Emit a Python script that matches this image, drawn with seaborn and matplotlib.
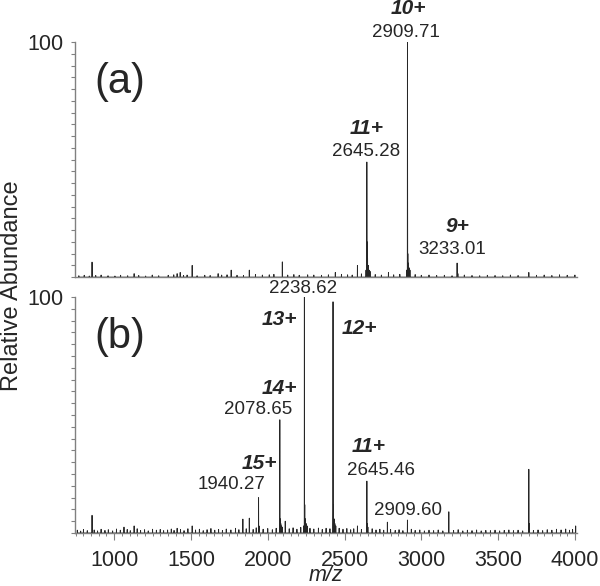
import numpy as np
import pandas as pd
import matplotlib
matplotlib.use("Agg")
import matplotlib.pyplot as plt
import seaborn as sns

# ---- data: (m/z, relative abundance %) ----
peaks_a = [(2909.71, 100), (2645.28, 49), (3233.01, 6),
           (2647, 15), (2650, 8), (2655, 5), (2660, 3), (2640, 3), (2666, 2.5),
           (2912, 10), (2915, 6), (2920, 4), (2926, 3), (2905, 3), (3238, 1.5),
           (856, 6.4), (1508, 5), (2095, 6.5), (2584, 5), (1762, 3), (1880, 3),
           (2440, 2), (2786, 2), (3700, 2), (1130, 1.5), (1410, 1.5), (1430, 2), (1677, 1.5)]

noise_a = [(770, 0.6), (805, 0.8), (838, 0.5), (880, 0.7), (915, 0.9), (960, 0.6),
           (1005, 0.5), (1042, 0.8), (1088, 0.6), (1160, 0.7), (1205, 0.5), (1248, 0.9),
           (1290, 0.6), (1352, 0.8), (1388, 1.0), (1452, 0.7), (1475, 0.9), (1540, 0.6),
           (1590, 0.8), (1625, 0.7), (1700, 0.9), (1735, 1.0), (1800, 0.8), (1842, 0.7),
           (1920, 1.1), (1965, 0.9), (2010, 1.0), (2040, 1.2), (2130, 0.9), (2170, 1.1),
           (2205, 0.8), (2260, 1.0), (2300, 0.9), (2350, 0.8), (2395, 1.0), (2480, 1.2),
           (2520, 1.0), (2550, 0.9), (2610, 1.4), (2700, 1.1), (2740, 0.9), (2820, 1.0),
           (2860, 1.2), (2960, 1.1), (3000, 0.8), (3050, 0.9), (3100, 0.7), (3150, 0.8),
           (3200, 0.6), (3280, 0.9), (3330, 0.7), (3380, 0.6), (3430, 0.8), (3480, 0.7),
           (3530, 0.6), (3580, 0.9), (3630, 0.7), (3750, 0.8), (3800, 0.9), (3850, 0.7),
           (3900, 1.0), (3950, 0.8), (4000, 0.9)]

peaks_b = [(2238.62, 100), (2425.10, 98), (2078.65, 48), (1940.27, 15),
           (2645.46, 22), (2909.60, 5.5), (3700, 27), (3179, 9), (856, 7.5),
           (1838, 5.9), (1880, 6.3), (2114, 5), (2584, 3), (2779, 4.6),
           (1064, 2.5), (1130, 3), (1410, 2), (1508, 3), (4005, 3),
           (2241, 12), (2245, 6), (2250, 4), (2256, 3), (2233, 3),
           (2428, 12), (2432, 6), (2437, 4), (2443, 3),
           (2081, 6), (2085, 4), (2090, 3), (2096, 2.5),
           (1943, 3), (2648, 4), (2652, 2.5), (3703, 4)]

noise_b = [(760, 1.2), (782, 0.8), (800, 1.5), (825, 1.0), (870, 1.3), (892, 0.9),
           (915, 1.6), (940, 1.1), (962, 1.4), (990, 0.9), (1015, 1.7), (1040, 1.2),
           (1085, 1.5), (1105, 1.0), (1150, 1.8), (1172, 1.1), (1198, 1.4), (1222, 0.9),
           (1250, 1.6), (1275, 1.2), (1300, 1.5), (1322, 1.0), (1348, 1.3), (1372, 1.7),
           (1390, 1.1), (1432, 1.5), (1455, 1.0), (1480, 1.8), (1530, 1.3), (1555, 1.6),
           (1580, 1.0), (1605, 1.4), (1630, 1.9), (1655, 1.2), (1680, 1.5), (1705, 1.1),
           (1730, 1.7), (1760, 1.3), (1790, 2.0), (1812, 1.4), (1860, 1.8), (1905, 1.5),
           (1925, 2.2), (1970, 1.6), (2000, 1.9), (2030, 1.4), (2055, 2.0), (2140, 1.8),
           (2165, 2.2), (2190, 1.6), (2215, 2.4), (2275, 2.0), (2300, 1.7), (2330, 2.1),
           (2355, 1.5), (2380, 2.0), (2405, 1.8), (2465, 2.0), (2490, 1.6), (2515, 1.9),
           (2540, 1.4), (2560, 1.8), (2610, 1.5), (2680, 1.8), (2705, 1.3), (2730, 1.6),
           (2755, 1.2), (2800, 1.5), (2830, 1.1), (2855, 1.4), (2880, 1.0), (2935, 1.6),
           (2960, 1.1), (2990, 1.3), (3020, 0.9), (3050, 1.2), (3080, 1.0), (3110, 1.3),
           (3140, 0.9), (3210, 1.1), (3240, 1.4), (3270, 0.9), (3300, 1.2), (3330, 1.0),
           (3360, 1.3), (3390, 0.9), (3420, 1.1), (3450, 1.0), (3480, 1.2), (3510, 0.9),
           (3540, 1.1), (3570, 1.3), (3600, 1.0), (3630, 1.2), (3660, 0.9), (3730, 1.1),
           (3760, 1.3), (3790, 1.0), (3820, 1.4), (3850, 1.2), (3880, 1.6), (3910, 1.3),
           (3940, 1.7), (3965, 1.2), (3985, 1.5)]

# annotations: (text, m/z, y, bold-italic?)
labels_a = [("10+", 2913, 114.3, True), ("2909.71", 2902, 104.3, False),
            ("11+", 2641, 63.4, True), ("2645.28", 2641, 53.6, False),
            ("9+", 3234, 21.4, True), ("3233.01", 3203, 11.9, False)]
labels_b = [("2238.62", 2232, 103.8, False), ("13+", 2075, 90.7, True),
            ("12+", 2597, 86.5, True), ("14+", 2075, 61.2, True),
            ("2078.65", 1938, 52.3, False), ("15+", 1948, 29.5, True),
            ("1940.27", 1767, 20.7, False), ("11+", 2655, 36.7, True),
            ("2645.46", 2738, 26.6, False), ("2909.60", 2916, 9.7, False)]

panel_tags = ["(a)", "(b)"]
x_major = [1000, 1500, 2000, 2500, 3000, 3500, 4000]


def profile(sticks):
    df = pd.DataFrame(sorted(sticks), columns=["mz", "ab"])
    rows = []
    for mz, ab in zip(df["mz"], df["ab"]):
        rows += [(mz - 0.8, 0.0), (mz, ab), (mz + 0.8, 0.0)]
    return pd.DataFrame(rows, columns=["mz", "ab"])


sns.set_style("ticks")
plt.rcParams["font.family"] = ["Liberation Sans", "DejaVu Sans"]

fig = plt.figure(figsize=(6.0, 5.86), dpi=100)
ax_a = fig.add_axes([0.125, 0.527, 0.837, 0.401])
ax_b = fig.add_axes([0.125, 0.0904, 0.837, 0.4026])

spine_col = "#808080"
line_col = "#262626"

for ax, sticks, noise, labels, tag in [(ax_a, peaks_a, noise_a, labels_a, panel_tags[0]),
                                        (ax_b, peaks_b, noise_b, labels_b, panel_tags[1])]:
    prof = profile(sticks + noise)
    sns.lineplot(data=prof, x="mz", y="ab", ax=ax, color=line_col, lw=0.65,
                 estimator=None, sort=False)
    ax.set_xlim(745, 4015)
    ax.set_ylim(0, 100)
    sns.despine(ax=ax)
    for s in ["left", "bottom"]:
        ax.spines[s].set_color(spine_col)
        ax.spines[s].set_linewidth(1.0)
    ax.set_yticks([100])
    ax.set_yticks(np.arange(0, 100, 5), minor=True)
    ax.tick_params(axis="y", which="both", length=3, width=0.8, color=spine_col,
                   labelsize=15.5, pad=5)
    ax.set_xlabel("")
    ax.set_ylabel("")
    for text, mz, y, bold in labels:
        if bold:
            ax.text(mz, y, text, ha="center", va="center", fontsize=15,
                    fontweight="bold", fontstyle="italic", clip_on=False)
        else:
            ax.text(mz, y, text, ha="center", va="center", fontsize=13.5,
                    clip_on=False)
    ax.text(0.09, 0.83, tag, transform=ax.transAxes, ha="center", va="center",
            fontsize=30)

ax_a.set_xticks([])
ax_a.tick_params(axis="x", which="both", length=0)

ax_b.set_xticks(x_major)
ax_b.set_xticks(np.arange(750, 4001, 50), minor=True)
ax_b.tick_params(axis="x", which="major", length=5, width=0.8, color=spine_col,
                 labelsize=15.5, pad=7)
ax_b.tick_params(axis="x", which="minor", length=2.5, width=0.7, color=spine_col)

fig.text(326 / 600, 0.0, "m/z", ha="center", va="bottom", fontsize=15.5,
         fontstyle="italic")
fig.text(12 / 600, 1 - 286 / 586, "Relative Abundance", rotation=90,
         ha="center", va="center", fontsize=17)

fig.savefig("out.png", dpi=100)
